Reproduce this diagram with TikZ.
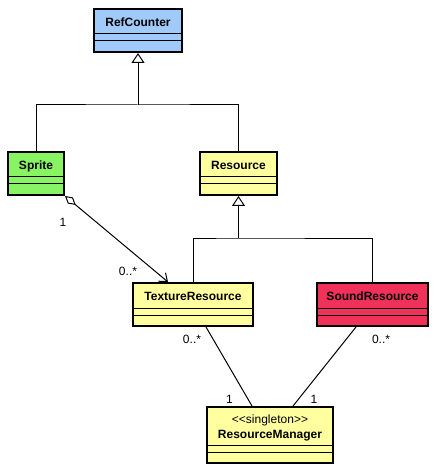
\documentclass[tikz,border=0pt]{standalone}
\usepackage{fontspec}
\setmainfont{Liberation Sans}
\usetikzlibrary{arrows.meta}
\definecolor{refblue}{RGB}{160,202,250}
\definecolor{spritegreen}{RGB}{136,244,100}
\definecolor{resyellow}{RGB}{255,255,160}
\definecolor{soundred}{RGB}{240,50,90}
\tikzset{
  >={Straight Barb[length=7bp,width=11bp]},
  umlclass/.style={draw, line width=2bp, fill=#1, inner sep=0pt,
    text height=17.5bp, text depth=25.5bp,
    font=\fontsize{12bp}{14bp}\selectfont\bfseries,
    path picture={
      \draw[line width=1bp] ([yshift=18bp]path picture bounding box.south west)
        -- ([yshift=18bp]path picture bounding box.south east);
      \draw[line width=1bp] ([yshift=11bp]path picture bounding box.south west)
        -- ([yshift=11bp]path picture bounding box.south east);
    }},
  assoc/.style={line width=1bp},
  inherit/.style={line width=1bp, -{Triangle[open,length=10bp,width=13bp]}},
  mult/.style={font=\fontsize{12bp}{14bp}\selectfont, inner sep=0pt}
}

\begin{document}
\begin{tikzpicture}[x=1bp, y=-1bp]
  \useasboundingbox[fill=white] (0,0) rectangle (438,474);

  % classes
  \node[umlclass=refblue, minimum width=88bp] (refcounter) at (138,30.5) {RefCounter};
  \node[umlclass=spritegreen, minimum width=56bp] (sprite) at (36,173.5) {Sprite};
  \node[umlclass=resyellow, minimum width=77bp] (resource) at (238.5,173.5) {Resource};
  \node[umlclass=resyellow, minimum width=120bp] (texture) at (193,304.5) {TextureResource};
  \node[umlclass=soundred, minimum width=111bp] (sound) at (372.5,304.5) {SoundResource};
  \node[umlclass=resyellow, minimum width=126bp, text height=31bp, text depth=25bp]
    (manager) at (270,435) {\shortstack{\mdseries <{}<singleton>{}>\\[1bp]ResourceManager}};

  % generalisation
  \coordinate (rcjoin) at (refcounter.south |- 0,105);
  \draw[assoc] (sprite.north) |- (rcjoin) -| (resource.north);
  \draw[inherit] (rcjoin) -- (refcounter);

  \coordinate (resjoin) at (resource.south |- 0,238);
  \draw[assoc] (texture.north) |- (resjoin) -| (sound.north);
  \draw[inherit] (resjoin) -- (resource);

  % aggregation
  \draw[assoc, {Diamond[open,length=14bp,width=8bp]}->] (sprite.south east) -- ([xshift=-25bp]texture.north)
    node[mult, at start, xshift=-2bp, yshift=-26bp] (aggone) {1}
    node[mult, at end, xshift=-40bp, yshift=11bp] (aggmany) {0..*};

  % associations to the manager
  \draw[assoc] ([xshift=13bp]texture.south) -- ([xshift=-18bp]manager.north)
    node[mult, at start, xshift=-14bp, yshift=-12bp] (texmany) {0..*}
    node[mult, at end, xshift=-22.5bp, yshift=7bp] (texone) {1};
  \draw[assoc] ([xshift=-16.5bp]sound.south) -- ([xshift=23bp]manager.north)
    node[mult, at start, xshift=25bp, yshift=-12bp] (sndmany) {0..*}
    node[mult, at end, xshift=21bp, yshift=7bp] (sndone) {1};
\end{tikzpicture}
\end{document}
